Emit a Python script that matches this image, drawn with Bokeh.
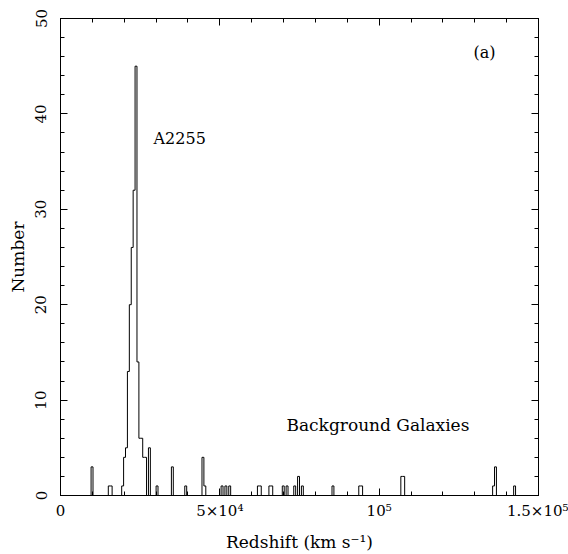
import numpy as np
from bokeh.plotting import figure
from bokeh.models import LinearAxis, FixedTicker, Range1d, Label, CustomLabelingPolicy
from bokeh.embed import file_html
from bokeh.resources import INLINE

# ---- data ----
bin_width_kms = 600
bin_left_kms = [9600, 15000, 15600,
                19200, 19800, 20400, 21000, 21600, 22200, 22800, 23400, 24000,
                24600, 25200, 25800, 26400, 27600, 30000, 34800, 39000,
                44400, 45000, 50400, 51600, 52800, 61800, 62400, 65400, 66000,
                69600, 70800, 73200, 74400, 75600, 85200, 93600, 94200,
                106800, 107400, 135600, 136200, 142200]
bin_counts = [3, 1, 1,
              1, 4, 5, 13, 20, 26, 32, 45, 14,
              6, 6, 4, 4, 5, 1, 3, 1,
              4, 1, 1, 1, 1, 1, 1, 1, 1,
              1, 1, 1, 2, 1, 1, 1, 1,
              2, 2, 1, 3, 1]

x_ticks = [0, 50000, 100000, 150000]
x_tick_labels = ["0", "5×10⁴", "10⁵", "1.5×10⁵"]
x_minor_ticks = list(range(0, 150001, 10000))
y_ticks = [0, 10, 20, 30, 40, 50]
y_minor_ticks = list(range(0, 51, 2))

# ---- histogram outline from the data ----
edges = np.arange(0, 150000 + bin_width_kms, bin_width_kms)
counts = np.zeros(len(edges) - 1)
for left, c in zip(bin_left_kms, bin_counts):
    counts[int(round(left / bin_width_kms))] = c
xs = np.repeat(edges, 2)[1:-1]
ys = np.repeat(counts, 2)

FONT = "DejaVu Serif"

p = figure(width=568, height=554, x_range=Range1d(0, 150000), y_range=Range1d(0, 50),
           output_backend="svg", toolbar_location=None,
           min_border_left=60, min_border_right=30, min_border_top=18, min_border_bottom=59)
p.grid.visible = False
p.outline_line_color = "black"
p.outline_line_width = 1
p.background_fill_color = "white"
p.border_fill_color = "white"

p.line(xs, ys, line_color="black", line_width=1)

def style_axis(ax, ticks, minor, labels=True):
    ax.ticker = FixedTicker(ticks=ticks, minor_ticks=minor)
    ax.major_tick_in = 7
    ax.major_tick_out = 0
    ax.minor_tick_in = 4
    ax.minor_tick_out = 0
    ax.axis_line_color = "black"
    ax.major_tick_line_color = "black"
    ax.minor_tick_line_color = "black"
    if labels:
        ax.major_label_text_font = FONT
        ax.major_label_text_font_size = "15px"
        ax.major_label_text_color = "black"
        ax.axis_label_text_font = FONT
        ax.axis_label_text_font_size = "17px"
        ax.axis_label_text_font_style = "normal"
        ax.axis_label_text_color = "black"
    else:
        ax.major_label_policy = CustomLabelingPolicy(
            code="for (const i of indices) { indices.unset(i) } return indices")
        ax.major_label_standoff = 0

xa = p.xaxis[0]
style_axis(xa, x_ticks, x_minor_ticks)
xa.major_label_overrides = {t: l for t, l in zip(x_ticks, x_tick_labels)}
xa.major_label_standoff = 6
xa.axis_label = "Redshift (km s⁻¹)"
xa.axis_label_standoff = 9

ya = p.yaxis[0]
style_axis(ya, y_ticks, y_minor_ticks)
ya.major_label_orientation = "vertical"
ya.major_label_standoff = 14
ya.axis_label = "Number"
ya.axis_label_standoff = 5

top = LinearAxis()
style_axis(top, x_ticks, x_minor_ticks, labels=False)
p.add_layout(top, "above")
right = LinearAxis()
style_axis(right, y_ticks, y_minor_ticks, labels=False)
p.add_layout(right, "right")

for x, y, t, fs in [(29200, 37.4, "A2255", "16px"),
                    (70900, 7.4, "Background Galaxies", "17px"),
                    (129600, 46.4, "(a)", "16px")]:
    p.add_layout(Label(x=x, y=y, text=t, text_font=FONT, text_font_size=fs,
                       text_baseline="middle", text_align="left", text_color="black"))

open("out.html", "w").write(file_html(p, INLINE))
